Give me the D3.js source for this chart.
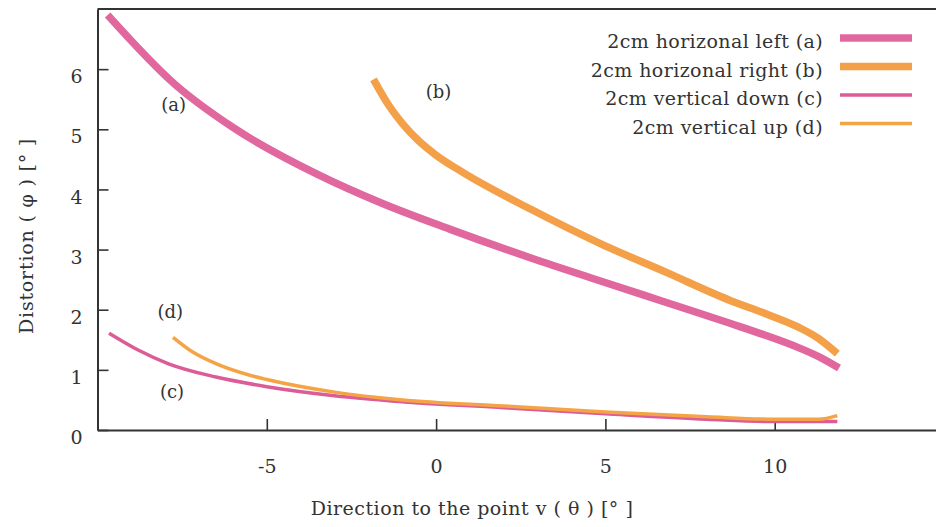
<!DOCTYPE html>
<html>
<head>
<meta charset="utf-8">
<script src="https://cdn.jsdelivr.net/npm/d3@7"></script>
<style>
  body { margin: 0; background: #fff; }
  svg { display: block; font-family: "DejaVu Serif", serif; }
</style>
</head>
<body>
<svg id="chart" width="936" height="527"></svg>
<script>
// curve values (theta in deg, phi in deg)
const leftX = [-9.7, -7.7, -6.0, -3.5, -1.6, 0.4, 2.8, 4.9, 6.8, 8.7, 9.7, 10.7, 11.3, 11.9];
const leftY = [6.9, 5.74, 5.03, 4.25, 3.77, 3.34, 2.86, 2.47, 2.12, 1.77, 1.58, 1.37, 1.22, 1.03];
const rightX = [-1.85, -1.4, -1.0, -0.5, 0, 0.8, 2.8, 4.85, 6.8, 8.7, 9.7, 10.7, 11.3, 11.85];
const rightY = [5.83, 5.4, 5.1, 4.8, 4.57, 4.28, 3.67, 3.1, 2.62, 2.15, 1.94, 1.71, 1.52, 1.27];
const downX = [-9.66, -8.8, -7.9, -6.5, -5, -3, -1, 2, 5, 8, 10, 11.85];
const downY = [1.61, 1.33, 1.1, 0.88, 0.72, 0.57, 0.47, 0.37, 0.27, 0.18, 0.14, 0.14];
const upX = [-7.77, -7.2, -6.45, -5.5, -5, -3, -1, 2, 5, 8, 10, 11.3, 11.85];
const upY = [1.54, 1.3, 1.09, 0.91, 0.84, 0.63, 0.5, 0.4, 0.3, 0.22, 0.18, 0.18, 0.24];

const seriesNames = [
  "2cm horizonal left (a)",
  "2cm horizonal right (b)",
  "2cm vertical down (c)",
  "2cm vertical up (d)",
];
const curveTags = ["(a)", "(b)", "(c)", "(d)"];
// where the tags sit, in data units
const tagX = [-7.75, 0.07, -7.8, -7.85];
const tagY = [5.3, 5.52, 0.53, 1.86];

const xTicks = [-5, 0, 5, 10];
const yTicks = [0, 1, 2, 3, 4, 5, 6];

const colors = ["#e0689f", "#f4a049", "#dc5c97", "#f4a445"];
const widths = [7.5, 7.5, 3.5, 3.5];

const svg = d3.select("#chart");
const x = d3.scaleLinear().domain([-10, 15]).range([97.5, 944]);
const y = d3.scaleLinear().domain([0, 7]).range([430, 9]);

const seriesList = [
  d3.zip(leftX, leftY),
  d3.zip(rightX, rightY),
  d3.zip(downX, downY),
  d3.zip(upX, upY),
];

const fmt = (d) => (d < 0 ? "-" + Math.abs(d) : String(d));

// frame
svg.append("line")
  .attr("x1", x(-10)).attr("x2", x(15))
  .attr("y1", y(7)).attr("y2", y(7))
  .attr("stroke", "#333").attr("stroke-width", 2);

const xAxis = svg.append("g")
  .attr("transform", `translate(0,${y(0)})`)
  .call(d3.axisBottom(x).tickValues(xTicks).tickSize(-11).tickSizeOuter(0).tickPadding(30).tickFormat(fmt));

const yAxis = svg.append("g")
  .attr("transform", `translate(${x(-10)},0)`)
  .call(d3.axisLeft(y).tickValues(yTicks).tickSize(-11).tickSizeOuter(0).tickPadding(15).tickFormat(fmt));

[xAxis, yAxis].forEach((g) => {
  g.select(".domain").attr("stroke", "#333").attr("stroke-width", 2);
  g.selectAll(".tick line").attr("stroke", "#333").attr("stroke-width", 1.6);
  g.selectAll(".tick text")
    .attr("font-family", "DejaVu Serif, serif")
    .attr("font-size", 19)
    .attr("fill", "#333");
});
yAxis.selectAll(".tick text").attr("dy", "0.72em");

// curves
const line = d3.line()
  .x((d) => x(d[0]))
  .y((d) => y(d[1]))
  .curve(d3.curveMonotoneX);

seriesList.forEach((data, i) => {
  svg.append("path")
    .datum(data)
    .attr("d", line)
    .attr("fill", "none")
    .attr("stroke", colors[i])
    .attr("stroke-width", widths[i])
    .attr("stroke-linecap", "butt");
});

// curve tags
curveTags.forEach((t, i) => {
  svg.append("text")
    .attr("x", x(tagX[i]))
    .attr("y", y(tagY[i]))
    .attr("text-anchor", "middle")
    .attr("font-size", 18)
    .attr("fill", "#333")
    .text(t);
});

// legend
const legend = svg.append("g");
seriesNames.forEach((name, i) => {
  const ly = 38 + i * 28.5;
  legend.append("text")
    .attr("x", 823)
    .attr("y", ly + 10)
    .attr("text-anchor", "end")
    .attr("font-size", 19)
    .attr("letter-spacing", 0.4)
    .attr("fill", "#333")
    .text(name);
  legend.append("line")
    .attr("x1", 840).attr("x2", 912)
    .attr("y1", ly).attr("y2", ly)
    .attr("stroke", colors[i])
    .attr("stroke-width", i < 2 ? 7.5 : 3.5);
});

// axis titles
svg.append("text")
  .attr("x", 472)
  .attr("y", 515)
  .attr("text-anchor", "middle")
  .attr("font-size", 19)
  .attr("letter-spacing", 0.5)
  .attr("fill", "#333")
  .text("Direction to the point v ( θ ) [°  ]");

svg.append("text")
  .attr("transform", "translate(33,236) rotate(-90)")
  .attr("text-anchor", "middle")
  .attr("font-size", 19)
  .attr("letter-spacing", 0.8)
  .attr("fill", "#333")
  .text("Distortion ( φ ) [°  ]");
</script>
</body>
</html>
